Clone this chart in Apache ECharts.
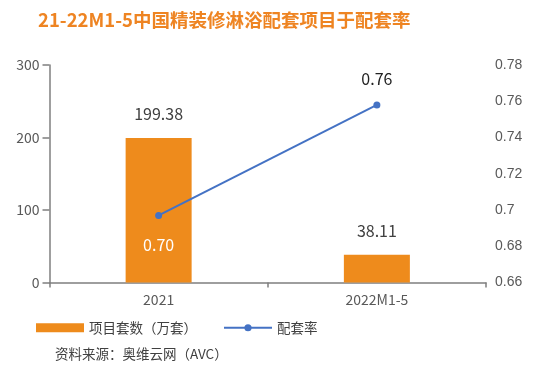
<!DOCTYPE html>
<html>
<head>
<meta charset="utf-8">
<script src="https://cdn.jsdelivr.net/npm/echarts@6/dist/echarts.min.js"></script>
<style>html,body{margin:0;padding:0;background:#fff;}#c{width:550px;height:379px;}</style>
</head>
<body>
<div id="c"></div>
<script>
const categories = ['2021', '2022M1-5'];
const projectSets = [199.38, 38.11];
const matchRate = [0.697, 0.758];
const leftTicks = { min: 0, max: 300, interval: 100 };
const rightTicks = { min: 0.66, max: 0.78, interval: 0.02 };
const seriesNames = ['项目套数（万套）', '配套率'];
const titleText = '21-22M1-5中国精装修淋浴配套项目于配套率';
const sourceText = '资料来源：奥维云网（AVC）';

const FONT = '"Noto Sans CJK SC", "Noto Sans", sans-serif';
const chart = echarts.init(document.getElementById('c'), null, { renderer: 'canvas' });
chart.setOption({
  animation: false,
  backgroundColor: '#ffffff',
  textStyle: { fontFamily: FONT },
  title: {
    text: titleText,
    left: 33, top: 6,
    textStyle: { color: '#EE8422', fontSize: 18.5, fontWeight: 'bold', fontFamily: FONT }
  },
  graphic: [{
    type: 'text', left: 55, top: 347,
    style: { text: sourceText, fill: '#404040', font: '13.5px ' + FONT }
  }],
  legend: {
    left: 31, top: 316,
    itemWidth: 48, itemHeight: 9, itemGap: 26,
    textStyle: { color: '#404040', fontSize: 13.5, fontFamily: FONT },
    data: [
      { name: seriesNames[0], icon: 'rect' },
      { name: seriesNames[1] }
    ]
  },
  grid: { left: 49.5, right: 64, top: 65, bottom: 96.5 },
  xAxis: {
    type: 'category',
    data: categories,
    axisLine: { lineStyle: { color: '#7f7f7f', width: 1.5 } },
    axisTick: { show: true, length: 5, lineStyle: { color: '#7f7f7f', width: 1.5 } },
    axisLabel: { color: '#595959', fontSize: 14, margin: 10, fontFamily: FONT }
  },
  yAxis: [
    {
      type: 'value', min: leftTicks.min, max: leftTicks.max, interval: leftTicks.interval,
      axisLine: { show: true, lineStyle: { color: '#7f7f7f', width: 1.5 } },
      axisTick: { show: true, length: 7, lineStyle: { color: '#7f7f7f', width: 1.5 } },
      splitLine: { show: false },
      axisLabel: { color: '#595959', fontSize: 14, margin: 10, fontFamily: FONT }
    },
    {
      type: 'value', min: rightTicks.min, max: rightTicks.max, interval: rightTicks.interval,
      position: 'right',
      axisLine: { show: false },
      axisTick: { show: false },
      splitLine: { show: false },
      axisLabel: {
        color: '#595959', fontSize: 14, margin: 9, fontFamily: '"Liberation Sans", Arial, sans-serif',
        formatter: v => String(+v.toFixed(2))
      }
    }
  ],
  series: [
    {
      name: seriesNames[0], type: 'bar', yAxisIndex: 0,
      data: projectSets,
      barWidth: 66,
      itemStyle: { color: '#EE8B1C' },
      label: {
        show: true, position: 'top', distance: 16,
        color: '#404040', fontSize: 16, fontFamily: FONT,
        formatter: p => p.value.toFixed(2)
      }
    },
    {
      name: seriesNames[1], type: 'line', yAxisIndex: 1,
      data: matchRate.map((v, i) => ({
        value: v,
        label: i === 0
          ? { position: 'bottom', distance: 18, color: '#ffffff' }
          : { position: 'top', distance: 14, color: '#222222' }
      })),
      symbol: 'circle', symbolSize: 7,
      lineStyle: { color: '#4472C4', width: 2 },
      itemStyle: { color: '#4472C4' },
      label: {
        show: true, fontSize: 16, fontFamily: FONT,
        formatter: p => p.value.toFixed(2)
      }
    }
  ]
});
</script>
</body>
</html>
